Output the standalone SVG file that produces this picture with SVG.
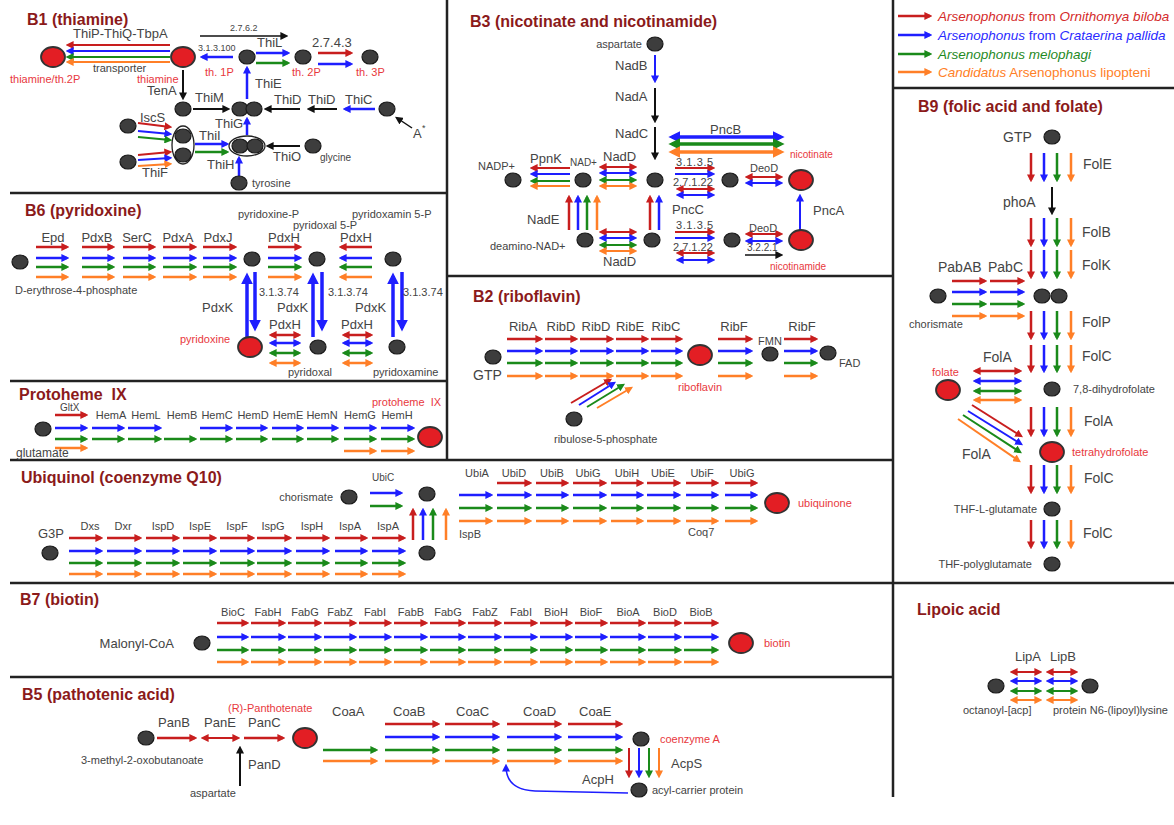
<svg xmlns="http://www.w3.org/2000/svg" width="1174" height="825" viewBox="0 0 1174 825">
<style>
text{font-family:"Liberation Sans",Arial,Helvetica,sans-serif;fill:#444}
.T{font-size:16px;font-weight:bold;fill:#8b1a1a}
.f9{font-size:9px}.f10{font-size:10px}.f11{font-size:11px}.f12{font-size:12px}.f13{font-size:13px}.f14{font-size:14px}
.rt{fill:#e8383d}
.m{text-anchor:middle}.e{text-anchor:end}
.it{font-style:italic}
.n{fill:#3d3d3d;stroke:#1a1a1a;stroke-width:1.2}
.rn{fill:#e31e24;stroke:#333;stroke-width:1.8}
.ov{fill:none;stroke:#222;stroke-width:1.3}
.div{stroke:#222;stroke-width:2.5;fill:none}
#connectors line,#connectors path,#legend line{fill:none;stroke-width:2.5}
.r{stroke:#c81e1e;marker-end:url(#mr)}
.b{stroke:#1e1eff;marker-end:url(#mb)}
.g{stroke:#1a8a1a;marker-end:url(#mg)}
.o{stroke:#ff7f27;marker-end:url(#mo)}
.k{stroke:#111;marker-end:url(#mk)}
.d.r{marker-start:url(#mr)}.d.b{marker-start:url(#mb)}.d.g{marker-start:url(#mg)}.d.o{marker-start:url(#mo)}
.L.b{marker-end:url(#mbL)}.L.g{marker-end:url(#mgL)}.L.o{marker-end:url(#moL)}
.L.d.b{marker-start:url(#mbL)}.L.d.g{marker-start:url(#mgL)}.L.d.o{marker-start:url(#moL)}
#connectors .w2,#legend .w2{stroke-width:2}
#connectors .w15{stroke-width:1.5}
#connectors .L{stroke-width:3.5}
</style>
<defs>
<marker id="mr" viewBox="0 0 10 10" refX="7" refY="5" markerWidth="8" markerHeight="8" markerUnits="userSpaceOnUse" orient="auto-start-reverse"><path d="M0,0L10,5L0,10z" fill="#c81e1e"/></marker>
<marker id="mb" viewBox="0 0 10 10" refX="7" refY="5" markerWidth="8" markerHeight="8" markerUnits="userSpaceOnUse" orient="auto-start-reverse"><path d="M0,0L10,5L0,10z" fill="#1e1eff"/></marker>
<marker id="mg" viewBox="0 0 10 10" refX="7" refY="5" markerWidth="8" markerHeight="8" markerUnits="userSpaceOnUse" orient="auto-start-reverse"><path d="M0,0L10,5L0,10z" fill="#1a8a1a"/></marker>
<marker id="mo" viewBox="0 0 10 10" refX="7" refY="5" markerWidth="8" markerHeight="8" markerUnits="userSpaceOnUse" orient="auto-start-reverse"><path d="M0,0L10,5L0,10z" fill="#ff7f27"/></marker>
<marker id="mk" viewBox="0 0 10 10" refX="7" refY="5" markerWidth="8" markerHeight="8" markerUnits="userSpaceOnUse" orient="auto-start-reverse"><path d="M0,0L10,5L0,10z" fill="#111"/></marker>
<marker id="mbL" viewBox="0 0 10 10" refX="7" refY="5" markerWidth="12" markerHeight="12" markerUnits="userSpaceOnUse" orient="auto-start-reverse"><path d="M0,0L10,5L0,10z" fill="#1e1eff"/></marker>
<marker id="mgL" viewBox="0 0 10 10" refX="7" refY="5" markerWidth="12" markerHeight="12" markerUnits="userSpaceOnUse" orient="auto-start-reverse"><path d="M0,0L10,5L0,10z" fill="#1a8a1a"/></marker>
<marker id="moL" viewBox="0 0 10 10" refX="7" refY="5" markerWidth="12" markerHeight="12" markerUnits="userSpaceOnUse" orient="auto-start-reverse"><path d="M0,0L10,5L0,10z" fill="#ff7f27"/></marker>
</defs>
<rect width="1174" height="825" fill="#fff"/>

<g id="dividers" class="div">
<path d="M447,0V460M893,0V797M10,193H447M447,276H893M10,381H447M10,460H893M10,583H1174M10,677H893M893,88H1174"/>
</g>

<g id="titles">
<text class="T" x="27" y="25">B1 (thiamine)</text>
<text class="T" x="470" y="27">B3 (nicotinate and nicotinamide)</text>
<text class="T" x="918" y="112">B9 (folic acid and folate)</text>
<text class="T" x="25" y="216">B6 (pyridoxine)</text>
<text class="T" x="473" y="302">B2 (riboflavin)</text>
<text class="T" x="19" y="400" xml:space="preserve">Protoheme  IX</text>
<text class="T" x="21" y="483">Ubiquinol (coenzyme Q10)</text>
<text class="T" x="20" y="605">B7 (biotin)</text>
<text class="T" x="22" y="700">B5 (pathotenic acid)</text>
<text class="T" x="917" y="615">Lipoic acid</text>
</g>

<g id="legend">
<line class="r" x1="898" y1="16" x2="930" y2="16"/>
<line class="b" x1="898" y1="35" x2="930" y2="35"/>
<line class="g" x1="898" y1="54" x2="930" y2="54"/>
<line class="o" x1="898" y1="72" x2="930" y2="72"/>
<text x="938" y="21" style="font-size:13.5px;fill:#d42a2a"><tspan class="it">Arsenophonus</tspan> from <tspan class="it">Ornithomya biloba</tspan></text>
<text x="938" y="40" style="font-size:13.5px;fill:#2a2aff"><tspan class="it">Arsenophonus</tspan> from <tspan class="it">Crataerina pallida</tspan></text>
<text x="938" y="59" class="it" style="font-size:13.5px;fill:#1f8a1f">Arsenophonus melophagi</text>
<text x="938" y="77" style="font-size:13.5px;fill:#ff7f27"><tspan class="it">Candidatus</tspan> Arsenophonus lipopteni</text>
</g>

<g id="connectors">
<!-- B1 -->
<line class="r w2" x1="170" y1="45" x2="68" y2="45"/>
<line class="b w2" x1="170" y1="51" x2="68" y2="51"/>
<line class="g w2" x1="170" y1="57" x2="68" y2="57"/>
<line class="o w2" x1="170" y1="62" x2="68" y2="62"/>
<line class="k w15" x1="200" y1="36" x2="286" y2="36"/>
<line class="b" x1="233" y1="57" x2="202" y2="57"/>
<line class="b" x1="256" y1="53" x2="288" y2="53"/>
<line class="g" x1="256" y1="63" x2="288" y2="63"/>
<line class="r" x1="318" y1="53" x2="351" y2="53"/>
<line class="b" x1="318" y1="64" x2="351" y2="64"/>
<line class="k w2" x1="183" y1="70" x2="183" y2="98"/>
<line class="k w2" x1="193" y1="109" x2="228" y2="109"/>
<line class="b" x1="247" y1="99" x2="247" y2="68"/>
<line class="k w2" x1="300" y1="109" x2="266" y2="109"/>
<line class="k w2" x1="337" y1="109" x2="309" y2="109"/>
<line class="b" x1="375" y1="109" x2="345" y2="109"/>
<line class="k w15" x1="412" y1="128" x2="397" y2="118"/>
<line class="r w2" x1="138" y1="123" x2="170" y2="127"/>
<line class="b w2" x1="138" y1="131" x2="170" y2="134"/>
<line class="g w2" x1="138" y1="137" x2="170" y2="140"/>
<line class="r w2" x1="138" y1="155" x2="170" y2="152"/>
<line class="b w2" x1="138" y1="160" x2="170" y2="158"/>
<line class="o w2" x1="138" y1="166" x2="170" y2="164"/>
<line class="b" x1="195" y1="144" x2="227" y2="144"/>
<line class="g" x1="195" y1="152" x2="227" y2="152"/>
<line class="b" x1="247" y1="135" x2="247" y2="119"/>
<line class="k w2" x1="300" y1="146" x2="268" y2="146"/>
<line class="b" x1="239" y1="176" x2="239" y2="158"/>
<!-- B3 -->
<line class="b w2" x1="655" y1="55" x2="655" y2="81"/>
<line class="k w2" x1="655" y1="88" x2="655" y2="121"/>
<line class="k w2" x1="655" y1="127" x2="655" y2="158"/>
<line class="b d L" x1="672" y1="137" x2="781" y2="137"/>
<line class="g d L" x1="672" y1="144" x2="781" y2="144"/>
<line class="o d L" x1="672" y1="152" x2="781" y2="152"/>
<line class="r w2" x1="675" y1="168" x2="713" y2="168"/>
<line class="b w2" x1="675" y1="174" x2="713" y2="174"/>
<line class="r d w2" x1="678" y1="189" x2="713" y2="189"/>
<line class="b d w2" x1="678" y1="195" x2="713" y2="195"/>
<line class="r d w2" x1="747" y1="177" x2="781" y2="177"/>
<line class="b d w2" x1="747" y1="183" x2="781" y2="183"/>
<line class="r w2" x1="570" y1="168" x2="532" y2="168"/>
<line class="b w2" x1="570" y1="174" x2="532" y2="174"/>
<line class="g w2" x1="570" y1="181" x2="532" y2="181"/>
<line class="o w2" x1="570" y1="186" x2="532" y2="186"/>
<line class="r d w2" x1="601" y1="167" x2="635" y2="167"/>
<line class="b d w2" x1="601" y1="173" x2="635" y2="173"/>
<line class="g d w2" x1="601" y1="180" x2="635" y2="180"/>
<line class="o d w2" x1="601" y1="186" x2="635" y2="186"/>
<line class="r" x1="569" y1="230" x2="569" y2="197"/>
<line class="b" x1="578" y1="230" x2="578" y2="197"/>
<line class="g" x1="587" y1="230" x2="587" y2="197"/>
<line class="o" x1="597" y1="230" x2="597" y2="197"/>
<line class="r" x1="650" y1="230" x2="650" y2="197"/>
<line class="b" x1="659" y1="230" x2="659" y2="197"/>
<line class="b w2" x1="800" y1="230" x2="800" y2="196"/>
<line class="r d w2" x1="601" y1="232" x2="635" y2="232"/>
<line class="b d w2" x1="601" y1="238" x2="635" y2="238"/>
<line class="g d w2" x1="601" y1="245" x2="635" y2="245"/>
<line class="o d w2" x1="601" y1="251" x2="635" y2="251"/>
<line class="r w2" x1="675" y1="232" x2="713" y2="232"/>
<line class="b w2" x1="675" y1="238" x2="713" y2="238"/>
<line class="r d w2" x1="678" y1="253" x2="713" y2="253"/>
<line class="b d w2" x1="678" y1="260" x2="713" y2="260"/>
<line class="r d w2" x1="747" y1="234" x2="781" y2="234"/>
<line class="b d w2" x1="747" y1="241" x2="781" y2="241"/>
<line class="k w15" x1="745" y1="255" x2="781" y2="255"/>
<!-- B6 -->
<line class="r" x1="36" y1="247" x2="67" y2="247"/><line class="b" x1="36" y1="258" x2="67" y2="258"/><line class="g" x1="36" y1="267" x2="67" y2="267"/><line class="o" x1="36" y1="277" x2="67" y2="277"/>
<line class="r" x1="82" y1="247" x2="113" y2="247"/><line class="b" x1="82" y1="258" x2="113" y2="258"/><line class="g" x1="82" y1="267" x2="113" y2="267"/><line class="o" x1="82" y1="277" x2="113" y2="277"/>
<line class="r" x1="123" y1="247" x2="154" y2="247"/><line class="b" x1="123" y1="258" x2="154" y2="258"/><line class="g" x1="123" y1="267" x2="154" y2="267"/><line class="o" x1="123" y1="277" x2="154" y2="277"/>
<line class="r" x1="163" y1="247" x2="195" y2="247"/><line class="b" x1="163" y1="258" x2="195" y2="258"/><line class="g" x1="163" y1="267" x2="195" y2="267"/><line class="o" x1="163" y1="277" x2="195" y2="277"/>
<line class="r" x1="203" y1="247" x2="235" y2="247"/><line class="b" x1="203" y1="258" x2="235" y2="258"/><line class="g" x1="203" y1="267" x2="235" y2="267"/><line class="o" x1="203" y1="277" x2="235" y2="277"/>
<line class="r" x1="268" y1="247" x2="300" y2="247"/><line class="b" x1="268" y1="258" x2="300" y2="258"/><line class="g" x1="268" y1="267" x2="300" y2="267"/><line class="o" x1="268" y1="277" x2="300" y2="277"/>
<line class="r" x1="372" y1="247" x2="341" y2="247"/><line class="b" x1="372" y1="258" x2="341" y2="258"/><line class="g" x1="372" y1="267" x2="341" y2="267"/><line class="o" x1="372" y1="277" x2="341" y2="277"/>
<line class="b L" x1="247" y1="337" x2="247" y2="276"/><line class="b L" x1="255" y1="272" x2="255" y2="328"/>
<line class="b L" x1="313" y1="337" x2="313" y2="276"/><line class="b L" x1="322" y1="272" x2="322" y2="328"/>
<line class="b L" x1="393" y1="337" x2="393" y2="276"/><line class="b L" x1="402" y1="272" x2="402" y2="328"/>
<line class="r d" x1="271" y1="335" x2="299" y2="335"/><line class="b d" x1="271" y1="343" x2="299" y2="343"/><line class="g d" x1="271" y1="353" x2="299" y2="353"/><line class="o d" x1="271" y1="363" x2="299" y2="363"/>
<line class="r d" x1="344" y1="335" x2="371" y2="335"/><line class="b d" x1="344" y1="343" x2="371" y2="343"/><line class="g d" x1="344" y1="353" x2="371" y2="353"/><line class="o d" x1="344" y1="363" x2="371" y2="363"/>
<!-- Protoheme -->
<line class="r" x1="55" y1="415" x2="86" y2="415"/><line class="b" x1="55" y1="428" x2="86" y2="428"/><line class="g" x1="55" y1="439" x2="86" y2="439"/><line class="o" x1="55" y1="448" x2="86" y2="448"/>
<line class="b" x1="92" y1="428" x2="123" y2="428"/><line class="g" x1="92" y1="439" x2="123" y2="439"/>
<line class="b" x1="128" y1="428" x2="160" y2="428"/><line class="g" x1="128" y1="439" x2="160" y2="439"/>
<line class="g" x1="164" y1="439" x2="195" y2="439"/>
<line class="b" x1="200" y1="428" x2="231" y2="428"/><line class="g" x1="200" y1="439" x2="231" y2="439"/>
<line class="b" x1="236" y1="428" x2="266" y2="428"/><line class="g" x1="236" y1="439" x2="266" y2="439"/>
<line class="b" x1="272" y1="428" x2="302" y2="428"/><line class="g" x1="272" y1="439" x2="302" y2="439"/>
<line class="b" x1="307" y1="428" x2="337" y2="428"/><line class="g" x1="307" y1="439" x2="337" y2="439"/>
<line class="b" x1="344" y1="428" x2="375" y2="428"/><line class="g" x1="344" y1="439" x2="375" y2="439"/><line class="o" x1="344" y1="451" x2="375" y2="451"/>
<line class="b" x1="381" y1="428" x2="413" y2="428"/><line class="g" x1="381" y1="439" x2="413" y2="439"/><line class="o" x1="381" y1="451" x2="413" y2="451"/>
<!-- Ubiquinol -->
<line class="b" x1="370" y1="493" x2="401" y2="493"/><line class="g" x1="370" y1="506" x2="401" y2="506"/>
<line class="r" x1="413" y1="540" x2="413" y2="510"/><line class="b" x1="423" y1="540" x2="423" y2="510"/><line class="g" x1="433" y1="540" x2="433" y2="510"/><line class="o" x1="446" y1="540" x2="446" y2="510"/>
<line class="r" x1="69" y1="538" x2="101" y2="538"/><line class="b" x1="69" y1="551" x2="101" y2="551"/><line class="g" x1="69" y1="563" x2="101" y2="563"/><line class="o" x1="69" y1="574" x2="101" y2="574"/>
<line class="r" x1="107" y1="538" x2="140" y2="538"/><line class="b" x1="107" y1="551" x2="140" y2="551"/><line class="g" x1="107" y1="563" x2="140" y2="563"/><line class="o" x1="107" y1="574" x2="140" y2="574"/>
<line class="r" x1="146" y1="538" x2="178" y2="538"/><line class="b" x1="146" y1="551" x2="178" y2="551"/><line class="g" x1="146" y1="563" x2="178" y2="563"/><line class="o" x1="146" y1="574" x2="178" y2="574"/>
<line class="r" x1="183" y1="538" x2="215" y2="538"/><line class="b" x1="183" y1="551" x2="215" y2="551"/><line class="g" x1="183" y1="563" x2="215" y2="563"/><line class="o" x1="183" y1="574" x2="215" y2="574"/>
<line class="r" x1="220" y1="538" x2="253" y2="538"/><line class="b" x1="220" y1="551" x2="253" y2="551"/><line class="g" x1="220" y1="563" x2="253" y2="563"/><line class="o" x1="220" y1="574" x2="253" y2="574"/>
<line class="r" x1="257" y1="538" x2="290" y2="538"/><line class="b" x1="257" y1="551" x2="290" y2="551"/><line class="g" x1="257" y1="563" x2="290" y2="563"/><line class="o" x1="257" y1="574" x2="290" y2="574"/>
<line class="r" x1="296" y1="538" x2="328" y2="538"/><line class="b" x1="296" y1="551" x2="328" y2="551"/><line class="g" x1="296" y1="563" x2="328" y2="563"/><line class="o" x1="296" y1="574" x2="328" y2="574"/>
<line class="r" x1="335" y1="538" x2="366" y2="538"/><line class="b" x1="335" y1="551" x2="366" y2="551"/><line class="g" x1="335" y1="563" x2="366" y2="563"/><line class="o" x1="335" y1="574" x2="366" y2="574"/>
<line class="r" x1="372" y1="538" x2="404" y2="538"/><line class="b" x1="372" y1="551" x2="404" y2="551"/><line class="g" x1="372" y1="563" x2="404" y2="563"/><line class="o" x1="372" y1="574" x2="404" y2="574"/>
<line class="b" x1="459" y1="495" x2="491" y2="495"/><line class="g" x1="459" y1="508" x2="491" y2="508"/><line class="o" x1="459" y1="521" x2="491" y2="521"/>
<line class="r" x1="497" y1="483" x2="530" y2="483"/><line class="b" x1="497" y1="495" x2="530" y2="495"/><line class="g" x1="497" y1="508" x2="530" y2="508"/><line class="o" x1="497" y1="521" x2="530" y2="521"/>
<line class="r" x1="536" y1="483" x2="567" y2="483"/><line class="b" x1="536" y1="495" x2="567" y2="495"/><line class="g" x1="536" y1="508" x2="567" y2="508"/><line class="o" x1="536" y1="521" x2="567" y2="521"/>
<line class="r" x1="573" y1="483" x2="605" y2="483"/><line class="b" x1="573" y1="495" x2="605" y2="495"/><line class="g" x1="573" y1="508" x2="605" y2="508"/><line class="o" x1="573" y1="521" x2="605" y2="521"/>
<line class="r" x1="611" y1="483" x2="642" y2="483"/><line class="b" x1="611" y1="495" x2="642" y2="495"/><line class="g" x1="611" y1="508" x2="642" y2="508"/><line class="o" x1="611" y1="521" x2="642" y2="521"/>
<line class="r" x1="647" y1="483" x2="679" y2="483"/><line class="b" x1="647" y1="495" x2="679" y2="495"/><line class="g" x1="647" y1="508" x2="679" y2="508"/><line class="o" x1="647" y1="521" x2="679" y2="521"/>
<line class="r" x1="686" y1="483" x2="717" y2="483"/><line class="b" x1="686" y1="495" x2="717" y2="495"/><line class="g" x1="686" y1="508" x2="717" y2="508"/><line class="o" x1="686" y1="521" x2="717" y2="521"/>
<line class="r" x1="725" y1="483" x2="756" y2="483"/><line class="b" x1="725" y1="495" x2="756" y2="495"/><line class="g" x1="725" y1="508" x2="756" y2="508"/><line class="o" x1="725" y1="521" x2="756" y2="521"/>
<!-- B7 -->
<line class="r" x1="217" y1="623" x2="247" y2="623"/><line class="b" x1="217" y1="637" x2="247" y2="637"/><line class="g" x1="217" y1="650" x2="247" y2="650"/><line class="o" x1="217" y1="662" x2="247" y2="662"/>
<line class="r" x1="251" y1="623" x2="284" y2="623"/><line class="b" x1="251" y1="637" x2="284" y2="637"/><line class="g" x1="251" y1="650" x2="284" y2="650"/><line class="o" x1="251" y1="662" x2="284" y2="662"/>
<line class="r" x1="288" y1="623" x2="320" y2="623"/><line class="b" x1="288" y1="637" x2="320" y2="637"/><line class="g" x1="288" y1="650" x2="320" y2="650"/><line class="o" x1="288" y1="662" x2="320" y2="662"/>
<line class="r" x1="324" y1="623" x2="355" y2="623"/><line class="b" x1="324" y1="637" x2="355" y2="637"/><line class="g" x1="324" y1="650" x2="355" y2="650"/><line class="o" x1="324" y1="662" x2="355" y2="662"/>
<line class="r" x1="359" y1="623" x2="390" y2="623"/><line class="b" x1="359" y1="637" x2="390" y2="637"/><line class="g" x1="359" y1="650" x2="390" y2="650"/><line class="o" x1="359" y1="662" x2="390" y2="662"/>
<line class="r" x1="394" y1="623" x2="426" y2="623"/><line class="b" x1="394" y1="637" x2="426" y2="637"/><line class="g" x1="394" y1="650" x2="426" y2="650"/><line class="o" x1="394" y1="662" x2="426" y2="662"/>
<line class="r" x1="430" y1="623" x2="464" y2="623"/><line class="b" x1="430" y1="637" x2="464" y2="637"/><line class="g" x1="430" y1="650" x2="464" y2="650"/><line class="o" x1="430" y1="662" x2="464" y2="662"/>
<line class="r" x1="468" y1="623" x2="500" y2="623"/><line class="b" x1="468" y1="637" x2="500" y2="637"/><line class="g" x1="468" y1="650" x2="500" y2="650"/><line class="o" x1="468" y1="662" x2="500" y2="662"/>
<line class="r" x1="504" y1="623" x2="536" y2="623"/><line class="b" x1="504" y1="637" x2="536" y2="637"/><line class="g" x1="504" y1="650" x2="536" y2="650"/><line class="o" x1="504" y1="662" x2="536" y2="662"/>
<line class="r" x1="540" y1="623" x2="571" y2="623"/><line class="b" x1="540" y1="637" x2="571" y2="637"/><line class="g" x1="540" y1="650" x2="571" y2="650"/><line class="o" x1="540" y1="662" x2="571" y2="662"/>
<line class="r" x1="575" y1="623" x2="606" y2="623"/><line class="b" x1="575" y1="637" x2="606" y2="637"/><line class="g" x1="575" y1="650" x2="606" y2="650"/><line class="o" x1="575" y1="662" x2="606" y2="662"/>
<line class="r" x1="610" y1="623" x2="644" y2="623"/><line class="b" x1="610" y1="637" x2="644" y2="637"/><line class="g" x1="610" y1="650" x2="644" y2="650"/><line class="o" x1="610" y1="662" x2="644" y2="662"/>
<line class="r" x1="648" y1="623" x2="680" y2="623"/><line class="b" x1="648" y1="637" x2="680" y2="637"/><line class="g" x1="648" y1="650" x2="680" y2="650"/><line class="o" x1="648" y1="662" x2="680" y2="662"/>
<line class="r" x1="684" y1="623" x2="717" y2="623"/><line class="b" x1="684" y1="637" x2="717" y2="637"/><line class="g" x1="684" y1="650" x2="717" y2="650"/><line class="o" x1="684" y1="662" x2="717" y2="662"/>
<!-- B5 -->
<line class="r" x1="157" y1="738" x2="195" y2="738"/>
<line class="r d w2" x1="203" y1="738" x2="238" y2="738"/>
<line class="r" x1="244" y1="738" x2="283" y2="738"/>
<line class="k w2" x1="240" y1="786" x2="240" y2="748"/>
<line class="g" x1="323" y1="750" x2="376" y2="750"/><line class="o" x1="323" y1="761" x2="376" y2="761"/>
<line class="r" x1="385" y1="724" x2="438" y2="724"/><line class="b" x1="385" y1="737" x2="438" y2="737"/><line class="g" x1="385" y1="750" x2="438" y2="750"/><line class="o" x1="385" y1="761" x2="438" y2="761"/>
<line class="r" x1="445" y1="724" x2="498" y2="724"/><line class="b" x1="445" y1="737" x2="498" y2="737"/><line class="g" x1="445" y1="750" x2="498" y2="750"/><line class="o" x1="445" y1="761" x2="498" y2="761"/>
<line class="r" x1="507" y1="724" x2="560" y2="724"/><line class="b" x1="507" y1="737" x2="560" y2="737"/><line class="g" x1="507" y1="750" x2="560" y2="750"/><line class="o" x1="507" y1="761" x2="560" y2="761"/>
<line class="r" x1="568" y1="724" x2="621" y2="724"/><line class="b" x1="568" y1="737" x2="621" y2="737"/><line class="g" x1="568" y1="750" x2="621" y2="750"/><line class="o" x1="568" y1="761" x2="621" y2="761"/>
<line class="r w2" x1="629" y1="748" x2="629" y2="776"/><line class="b w2" x1="639" y1="748" x2="639" y2="776"/><line class="g w2" x1="649" y1="748" x2="649" y2="776"/><line class="o w2" x1="659" y1="748" x2="659" y2="776"/>
<path class="b w15" d="M628,793 L535,791 Q506,790 506,766"/>
<!-- B2 -->
<line class="r" x1="507" y1="339" x2="541" y2="339"/><line class="b" x1="507" y1="351" x2="541" y2="351"/><line class="g" x1="507" y1="363" x2="541" y2="363"/><line class="o" x1="507" y1="376" x2="541" y2="376"/>
<line class="r" x1="545" y1="339" x2="576" y2="339"/><line class="b" x1="545" y1="351" x2="576" y2="351"/><line class="g" x1="545" y1="363" x2="576" y2="363"/><line class="o" x1="545" y1="376" x2="576" y2="376"/>
<line class="r" x1="580" y1="339" x2="612" y2="339"/><line class="b" x1="580" y1="351" x2="612" y2="351"/><line class="g" x1="580" y1="363" x2="612" y2="363"/><line class="o" x1="580" y1="376" x2="612" y2="376"/>
<line class="r" x1="616" y1="339" x2="647" y2="339"/><line class="b" x1="616" y1="351" x2="647" y2="351"/><line class="g" x1="616" y1="363" x2="647" y2="363"/><line class="o" x1="616" y1="376" x2="647" y2="376"/>
<line class="r" x1="651" y1="339" x2="681" y2="339"/><line class="b" x1="651" y1="351" x2="681" y2="351"/><line class="g" x1="651" y1="363" x2="681" y2="363"/><line class="o" x1="651" y1="376" x2="681" y2="376"/>
<line class="r" x1="718" y1="339" x2="751" y2="339"/><line class="b" x1="718" y1="351" x2="751" y2="351"/><line class="g" x1="718" y1="363" x2="751" y2="363"/><line class="o" x1="718" y1="376" x2="751" y2="376"/>
<line class="r" x1="784" y1="339" x2="816" y2="339"/><line class="b" x1="784" y1="351" x2="816" y2="351"/><line class="g" x1="784" y1="363" x2="816" y2="363"/><line class="o" x1="784" y1="376" x2="816" y2="376"/>
<line class="r w2" x1="571" y1="403" x2="610" y2="380"/>
<line class="b w2" x1="579" y1="405" x2="614" y2="383"/>
<line class="g w2" x1="587" y1="407" x2="623" y2="385"/>
<line class="o w2" x1="597" y1="408" x2="631" y2="388"/>
<!-- B9 -->
<line class="r" x1="1031" y1="153" x2="1031" y2="180"/><line class="b" x1="1044" y1="153" x2="1044" y2="180"/><line class="g" x1="1057" y1="153" x2="1057" y2="180"/><line class="o" x1="1071" y1="153" x2="1071" y2="180"/>
<line class="k w2" x1="1052" y1="187" x2="1052" y2="213"/>
<line class="r" x1="1031" y1="218" x2="1031" y2="245"/><line class="b" x1="1044" y1="218" x2="1044" y2="245"/><line class="g" x1="1057" y1="218" x2="1057" y2="245"/><line class="o" x1="1071" y1="218" x2="1071" y2="245"/>
<line class="r" x1="1031" y1="250" x2="1031" y2="277"/><line class="b" x1="1044" y1="250" x2="1044" y2="277"/><line class="g" x1="1057" y1="250" x2="1057" y2="277"/><line class="o" x1="1071" y1="250" x2="1071" y2="277"/>
<line class="r" x1="952" y1="281" x2="985" y2="281"/><line class="b" x1="952" y1="292" x2="985" y2="292"/><line class="g" x1="952" y1="304" x2="985" y2="304"/><line class="o" x1="952" y1="316" x2="985" y2="316"/>
<line class="r" x1="990" y1="281" x2="1023" y2="281"/><line class="b" x1="990" y1="292" x2="1023" y2="292"/><line class="g" x1="990" y1="304" x2="1023" y2="304"/><line class="o" x1="990" y1="316" x2="1023" y2="316"/>
<line class="r" x1="1031" y1="311" x2="1031" y2="338"/><line class="b" x1="1044" y1="311" x2="1044" y2="338"/><line class="g" x1="1057" y1="311" x2="1057" y2="338"/><line class="o" x1="1071" y1="311" x2="1071" y2="338"/>
<line class="r" x1="1031" y1="345" x2="1031" y2="371"/><line class="b" x1="1044" y1="345" x2="1044" y2="371"/><line class="g" x1="1057" y1="345" x2="1057" y2="371"/><line class="o" x1="1071" y1="345" x2="1071" y2="371"/>
<line class="r d" x1="975" y1="371" x2="1020" y2="371"/><line class="b d" x1="975" y1="381" x2="1020" y2="381"/><line class="g d" x1="975" y1="391" x2="1020" y2="391"/><line class="o d" x1="975" y1="400" x2="1020" y2="400"/>
<line class="r" x1="1031" y1="407" x2="1031" y2="435"/><line class="b" x1="1044" y1="407" x2="1044" y2="435"/><line class="g" x1="1057" y1="407" x2="1057" y2="435"/><line class="o" x1="1071" y1="407" x2="1071" y2="435"/>
<line class="r w2" x1="972" y1="405" x2="1021" y2="436"/>
<line class="b w2" x1="968" y1="411" x2="1021" y2="444"/>
<line class="g w2" x1="963" y1="415" x2="1020" y2="452"/>
<line class="o w2" x1="958" y1="419" x2="1019" y2="461"/>
<line class="r" x1="1031" y1="465" x2="1031" y2="492"/><line class="b" x1="1044" y1="465" x2="1044" y2="492"/><line class="g" x1="1057" y1="465" x2="1057" y2="492"/><line class="o" x1="1071" y1="465" x2="1071" y2="492"/>
<line class="r" x1="1031" y1="520" x2="1031" y2="547"/><line class="b" x1="1044" y1="520" x2="1044" y2="547"/><line class="g" x1="1057" y1="520" x2="1057" y2="547"/><line class="o" x1="1071" y1="520" x2="1071" y2="547"/>
<!-- Lipoic -->
<line class="r d w2" x1="1012" y1="672" x2="1040" y2="672"/><line class="b d w2" x1="1012" y1="681" x2="1040" y2="681"/><line class="g d w2" x1="1012" y1="691" x2="1040" y2="691"/><line class="o d w2" x1="1012" y1="700" x2="1040" y2="700"/>
<line class="r d w2" x1="1048" y1="672" x2="1076" y2="672"/><line class="b d w2" x1="1048" y1="681" x2="1076" y2="681"/><line class="g d w2" x1="1048" y1="691" x2="1076" y2="691"/><line class="o d w2" x1="1048" y1="700" x2="1076" y2="700"/>

<g id="connector-labels">
<text class="f13" x="73" y="38">ThiP-ThiQ-TbpA</text>
<text class="f11" x="93" y="72">transporter</text>
<text class="f9" x="230" y="31">2.7.6.2</text>
<text class="f9" x="198" y="51">3.1.3.100</text>
<text class="f13" x="257" y="47">ThiL</text>
<text class="f13" x="312" y="47">2.7.4.3</text>
<text class="f13" x="147" y="95">TenA</text>
<text class="f13" x="195" y="102">ThiM</text>
<text class="f13" x="255" y="88">ThiE</text>
<text class="f13" x="274" y="104">ThiD</text>
<text class="f13" x="308" y="104">ThiD</text>
<text class="f13" x="345" y="104">ThiC</text>
<text class="f13" x="140" y="122">IscS</text>
<text class="f13" x="142" y="177">ThiF</text>
<text class="f13" x="199" y="140">ThiI</text>
<text class="f13" x="215" y="128">ThiG</text>
<text class="f13" x="273" y="161">ThiO</text>
<text class="f13" x="207" y="169">ThiH</text>

<text class="f13" x="615" y="70">NadB</text>
<text class="f13" x="615" y="101">NadA</text>
<text class="f13" x="615" y="138">NadC</text>
<text class="f13" x="710" y="134">PncB</text>
<text class="f11" x="676" y="166" letter-spacing="0.6">3.1.3.5</text>
<text class="f11" x="673" y="186">2.7.1.22</text>
<text class="f11" x="750" y="172">DeoD</text>
<text class="f13" x="530" y="163">PpnK</text>
<text class="f13" x="603" y="161">NadD</text>
<text class="f13" x="527" y="224">NadE</text>
<text class="f13" x="672" y="214">PncC</text>
<text class="f13" x="813" y="215">PncA</text>
<text class="f13" x="603" y="266">NadD</text>
<text class="f11" x="676" y="229" letter-spacing="0.6">3.1.3.5</text>
<text class="f11" x="673" y="251">2.7.1.22</text>
<text class="f11" x="749" y="232">DeoD</text>
<text class="f10" x="747" y="251">3.2.2.1</text>

<text class="f13 m" x="53" y="242">Epd</text>
<text class="f13 m" x="97" y="242">PdxB</text>
<text class="f13 m" x="137" y="242">SerC</text>
<text class="f13 m" x="178" y="242">PdxA</text>
<text class="f13 m" x="218" y="242">PdxJ</text>
<text class="f13 m" x="284" y="242">PdxH</text>
<text class="f13 m" x="356" y="242">PdxH</text>
<text class="f11" x="259" y="296">3.1.3.74</text>
<text class="f11" x="328" y="296">3.1.3.74</text>
<text class="f11" x="403" y="296">3.1.3.74</text>
<text class="f13" x="202" y="312">PdxK</text>
<text class="f13" x="277" y="312">PdxK</text>
<text class="f13" x="355" y="312">PdxK</text>
<text class="f13 m" x="285" y="329">PdxH</text>
<text class="f13 m" x="357" y="329">PdxH</text>

<text class="f10" x="60" y="411">GltX</text>
<text class="f11 m" x="111" y="419">HemA</text>
<text class="f11 m" x="146" y="419">HemL</text>
<text class="f11 m" x="182" y="419">HemB</text>
<text class="f11 m" x="217" y="419">HemC</text>
<text class="f11 m" x="253" y="419">HemD</text>
<text class="f11 m" x="288" y="419">HemE</text>
<text class="f11 m" x="322" y="419">HemN</text>
<text class="f11 m" x="360" y="419">HemG</text>
<text class="f11 m" x="397" y="419">HemH</text>

<text class="f10" x="372" y="481">UbiC</text>
<text class="f11 m" x="90" y="530">Dxs</text>
<text class="f11 m" x="123" y="530">Dxr</text>
<text class="f11 m" x="163" y="530">IspD</text>
<text class="f11 m" x="200" y="530">IspE</text>
<text class="f11 m" x="237" y="530">IspF</text>
<text class="f11 m" x="273" y="530">IspG</text>
<text class="f11 m" x="312" y="530">IspH</text>
<text class="f11 m" x="350" y="530">IspA</text>
<text class="f11 m" x="388" y="530">IspA</text>
<text class="f11" x="459" y="538">IspB</text>
<text class="f11 m" x="477" y="477">UbiA</text>
<text class="f11 m" x="514" y="477">UbiD</text>
<text class="f11 m" x="552" y="477">UbiB</text>
<text class="f11 m" x="588" y="477">UbiG</text>
<text class="f11 m" x="627" y="477">UbiH</text>
<text class="f11 m" x="663" y="477">UbiE</text>
<text class="f11 m" x="702" y="477">UbiF</text>
<text class="f11 m" x="742" y="477">UbiG</text>
<text class="f11" x="688" y="536">Coq7</text>

<text class="f11 m" x="233" y="616">BioC</text>
<text class="f11 m" x="268" y="616">FabH</text>
<text class="f11 m" x="305" y="616">FabG</text>
<text class="f11 m" x="340" y="616">FabZ</text>
<text class="f11 m" x="375" y="616">FabI</text>
<text class="f11 m" x="411" y="616">FabB</text>
<text class="f11 m" x="448" y="616">FabG</text>
<text class="f11 m" x="485" y="616">FabZ</text>
<text class="f11 m" x="521" y="616">FabI</text>
<text class="f11 m" x="556" y="616">BioH</text>
<text class="f11 m" x="591" y="616">BioF</text>
<text class="f11 m" x="628" y="616">BioA</text>
<text class="f11 m" x="665" y="616">BioD</text>
<text class="f11 m" x="701" y="616">BioB</text>

<text class="f13" x="158" y="727">PanB</text>
<text class="f13" x="204" y="727">PanE</text>
<text class="f13" x="248" y="727">PanC</text>
<text class="f13" x="248" y="769">PanD</text>
<text class="f13" x="332" y="716">CoaA</text>
<text class="f13" x="393" y="716">CoaB</text>
<text class="f13" x="456" y="716">CoaC</text>
<text class="f13" x="523" y="716">CoaD</text>
<text class="f13" x="579" y="716">CoaE</text>
<text class="f13" x="671" y="768">AcpS</text>
<text class="f13" x="582" y="784">AcpH</text>

<text class="f13 m" x="523" y="331">RibA</text>
<text class="f13 m" x="561" y="331">RibD</text>
<text class="f13 m" x="596" y="331">RibD</text>
<text class="f13 m" x="630" y="331">RibE</text>
<text class="f13 m" x="666" y="331">RibC</text>
<text class="f13 m" x="734" y="331">RibF</text>
<text class="f13 m" x="802" y="331">RibF</text>

<text class="f14" x="1083" y="169">FolE</text>
<text class="f14" x="1003" y="207">phoA</text>
<text class="f14" x="1082" y="237">FolB</text>
<text class="f14" x="1082" y="270">FolK</text>
<text class="f14" x="938" y="272">PabAB</text>
<text class="f14" x="988" y="272">PabC</text>
<text class="f14" x="1082" y="327">FolP</text>
<text class="f14" x="1082" y="361">FolC</text>
<text class="f14" x="983" y="362">FolA</text>
<text class="f14" x="1084" y="426">FolA</text>
<text class="f14" x="962" y="459">FolA</text>
<text class="f14" x="1084" y="483">FolC</text>
<text class="f14" x="1083" y="538">FolC</text>

<text class="f13" x="1015" y="661">LipA</text>
<text class="f13" x="1050" y="661">LipB</text>
</g>
</g>

<g id="nodes">
<!-- B1 -->
<g id="b1-thiamine-ext"><ellipse class="rn" cx="53" cy="57" rx="12" ry="10"/><text class="f11 rt" x="10" y="83">thiamine/th.2P</text></g>
<g id="b1-thiamine"><ellipse class="rn" cx="183" cy="57" rx="12" ry="10"/><text class="f11 rt" x="137" y="83">thiamine</text></g>
<g id="b1-th1p"><ellipse class="n" cx="247" cy="57" rx="8" ry="7"/><text class="f11 rt" x="205" y="76">th. 1P</text></g>
<g id="b1-th2p"><ellipse class="n" cx="303" cy="57" rx="8" ry="7"/><text class="f11 rt" x="292" y="76">th. 2P</text></g>
<g id="b1-th3p"><ellipse class="n" cx="370" cy="57" rx="8" ry="7"/><text class="f11 rt" x="356" y="76">th. 3P</text></g>
<g id="b1-hmp"><ellipse class="n" cx="183" cy="109" rx="8" ry="7"/></g>
<g id="b1-hmp-pp"><ellipse class="n" cx="240" cy="109" rx="8" ry="7"/><ellipse class="n" cx="254" cy="109" rx="8" ry="7"/></g>
<g id="b1-air"><ellipse class="n" cx="387" cy="109" rx="8" ry="7"/></g>
<g id="b1-astar"><text class="f13" x="413" y="138">A</text><text class="f9" x="422" y="131">*</text></g>
<g id="b1-iscs-src"><ellipse class="n" cx="128" cy="126" rx="8" ry="7"/></g>
<g id="b1-thif-src"><ellipse class="n" cx="128" cy="162" rx="8" ry="7"/></g>
<g id="b1-pair1"><ellipse class="ov" cx="183" cy="145" rx="11" ry="19"/><ellipse class="n" cx="183" cy="136" rx="8" ry="7"/><ellipse class="n" cx="183" cy="155" rx="8" ry="7"/></g>
<g id="b1-pair2"><ellipse class="ov" cx="247" cy="146" rx="18" ry="10"/><ellipse class="n" cx="240" cy="146" rx="8" ry="7"/><ellipse class="n" cx="255" cy="146" rx="8" ry="7"/></g>
<g id="b1-glycine"><ellipse class="n" cx="313" cy="146" rx="8" ry="7"/><text class="f10" x="320" y="161">glycine</text></g>
<g id="b1-tyrosine"><ellipse class="n" cx="239" cy="183" rx="8" ry="7"/><text class="f11" x="252" y="187">tyrosine</text></g>
<!-- B3 -->
<g id="b3-aspartate"><ellipse class="n" cx="655" cy="44" rx="8" ry="7"/><text class="f11 e" x="642" y="48">aspartate</text></g>
<g id="b3-namn"><ellipse class="n" cx="655" cy="180" rx="8" ry="7"/></g>
<g id="b3-nadp"><ellipse class="n" cx="513" cy="180" rx="8" ry="7"/><text class="f11" x="478" y="170">NADP+</text></g>
<g id="b3-nad"><ellipse class="n" cx="583" cy="180" rx="8" ry="7"/><text class="f10" x="570" y="166">NAD+</text></g>
<g id="b3-nr1"><ellipse class="n" cx="730" cy="180" rx="8" ry="7"/></g>
<g id="b3-nicotinate"><ellipse class="rn" cx="801" cy="180" rx="12" ry="10"/><text class="f10 rt" x="790" y="158">nicotinate</text></g>
<g id="b3-deamino-nad"><ellipse class="n" cx="585" cy="240" rx="8" ry="7"/><text class="f11" x="490" y="250">deamino-NAD+</text></g>
<g id="b3-nmn"><ellipse class="n" cx="652" cy="240" rx="8" ry="7"/></g>
<g id="b3-nr2"><ellipse class="n" cx="732" cy="240" rx="8" ry="7"/></g>
<g id="b3-nicotinamide"><ellipse class="rn" cx="801" cy="240" rx="12" ry="10"/><text class="f10 rt" x="770" y="270">nicotinamide</text></g>
<!-- B6 -->
<g id="b6-e4p"><ellipse class="n" cx="20" cy="262" rx="8" ry="7"/><text class="f11" x="15" y="294">D-erythrose-4-phosphate</text></g>
<g id="b6-pyridoxine-p"><ellipse class="n" cx="252" cy="259" rx="8" ry="7"/><text class="f11" x="238" y="218">pyridoxine-P</text></g>
<g id="b6-pyridoxal-5p"><ellipse class="n" cx="317" cy="259" rx="8" ry="7"/><text class="f11" x="293" y="229">pyridoxal 5-P</text></g>
<g id="b6-pyridoxamin-5p"><ellipse class="n" cx="393" cy="259" rx="8" ry="7"/><text class="f11" x="352" y="218">pyridoxamin 5-P</text></g>
<g id="b6-pyridoxine"><ellipse class="rn" cx="250" cy="347" rx="12" ry="10"/><text class="f11 rt" x="180" y="343">pyridoxine</text></g>
<g id="b6-pyridoxal"><ellipse class="n" cx="318" cy="347" rx="8" ry="7"/><text class="f11" x="288" y="376">pyridoxal</text></g>
<g id="b6-pyridoxamine"><ellipse class="n" cx="397" cy="347" rx="8" ry="7"/><text class="f11" x="373" y="376">pyridoxamine</text></g>
<!-- Protoheme -->
<g id="ph-glutamate"><ellipse class="n" cx="43" cy="429" rx="8" ry="7"/><text class="f12" x="16" y="457">glutamate</text></g>
<g id="ph-protoheme"><ellipse class="rn" cx="430" cy="437" rx="12" ry="10"/><text class="f11 rt" x="372" y="406" xml:space="preserve">protoheme  IX</text></g>
<!-- Ubiquinol -->
<g id="ub-chorismate"><ellipse class="n" cx="349" cy="497" rx="8" ry="7"/><text class="f11 e" x="333" y="501">chorismate</text></g>
<g id="ub-hba"><ellipse class="n" cx="427" cy="494" rx="8" ry="7"/></g>
<g id="ub-opp"><ellipse class="n" cx="427" cy="553" rx="8" ry="7"/></g>
<g id="ub-g3p"><ellipse class="n" cx="50" cy="553" rx="8" ry="7"/><text class="f13" x="38" y="538">G3P</text></g>
<g id="ub-ubiquinone"><ellipse class="rn" cx="777" cy="503" rx="12" ry="10"/><text class="f11 rt" x="798" y="507">ubiquinone</text></g>
<!-- B7 -->
<g id="b7-malonyl"><ellipse class="n" cx="202" cy="643" rx="8" ry="7"/><text class="f13 e" x="174" y="648">Malonyl-CoA</text></g>
<g id="b7-biotin"><ellipse class="rn" cx="741" cy="643" rx="12" ry="10"/><text class="f11 rt" x="764" y="647">biotin</text></g>
<!-- B5 -->
<g id="b5-oxobutanoate"><ellipse class="n" cx="146" cy="738" rx="8" ry="7"/><text class="f11" x="81" y="764">3-methyl-2-oxobutanoate</text></g>
<g id="b5-pantothenate"><ellipse class="rn" cx="305" cy="738" rx="12" ry="10"/><text class="f11 rt" x="228" y="712">(R)-Panthotenate</text></g>
<g id="b5-aspartate"><text class="f11" x="190" y="797">aspartate</text></g>
<g id="b5-coa"><ellipse class="n" cx="641" cy="739" rx="8" ry="7"/><text class="f11 rt" x="660" y="743">coenzyme A</text></g>
<g id="b5-acp"><ellipse class="n" cx="639" cy="790" rx="8" ry="7"/><text class="f11" x="652" y="794">acyl-carrier protein</text></g>
<!-- B2 -->
<g id="b2-gtp"><ellipse class="n" cx="493" cy="357" rx="8" ry="7"/><text class="f14" x="473" y="380">GTP</text></g>
<g id="b2-riboflavin"><ellipse class="rn" cx="700" cy="355" rx="12" ry="10"/><text class="f11 rt" x="678" y="391">riboflavin</text></g>
<g id="b2-fmn"><ellipse class="n" cx="770" cy="354" rx="8" ry="7"/><text class="f11" x="758" y="345">FMN</text></g>
<g id="b2-fad"><ellipse class="n" cx="828" cy="353" rx="8" ry="7"/><text class="f11" x="839" y="367">FAD</text></g>
<g id="b2-ribulose"><ellipse class="n" cx="574" cy="419" rx="8" ry="7"/><text class="f11" x="554" y="443">ribulose-5-phosphate</text></g>
<!-- B9 -->
<g id="b9-gtp"><ellipse class="n" cx="1052" cy="137" rx="8" ry="7"/><text class="f14" x="1003" y="142">GTP</text></g>
<g id="b9-pterin"><ellipse class="n" cx="1042" cy="296" rx="8" ry="7"/><ellipse class="n" cx="1059" cy="296" rx="8" ry="7"/></g>
<g id="b9-chorismate"><ellipse class="n" cx="938" cy="296" rx="8" ry="7"/><text class="f11" x="909" y="328">chorismate</text></g>
<g id="b9-folate"><ellipse class="rn" cx="948" cy="390" rx="12" ry="10"/><text class="f11 rt" x="932" y="376">folate</text></g>
<g id="b9-dhf"><ellipse class="n" cx="1052" cy="389" rx="8" ry="7"/><text class="f11" x="1073" y="393">7,8-dihydrofolate</text></g>
<g id="b9-thf"><ellipse class="rn" cx="1052" cy="452" rx="12" ry="10"/><text class="f11 rt" x="1072" y="456">tetrahydrofolate</text></g>
<g id="b9-thf-glu"><ellipse class="n" cx="1052" cy="509" rx="8" ry="7"/><text class="f11 e" x="1037" y="513">THF-L-glutamate</text></g>
<g id="b9-thf-polyglu"><ellipse class="n" cx="1052" cy="564" rx="8" ry="7"/><text class="f11 e" x="1032" y="568">THF-polyglutamate</text></g>
<!-- Lipoic -->
<g id="lp-octanoyl"><ellipse class="n" cx="996" cy="686" rx="8" ry="7"/><text class="f11" x="963" y="714">octanoyl-[acp]</text></g>
<g id="lp-lipoyl"><ellipse class="n" cx="1090" cy="686" rx="8" ry="7"/><text class="f11" x="1053" y="714">protein N6-(lipoyl)lysine</text></g>
</g>
</svg>
